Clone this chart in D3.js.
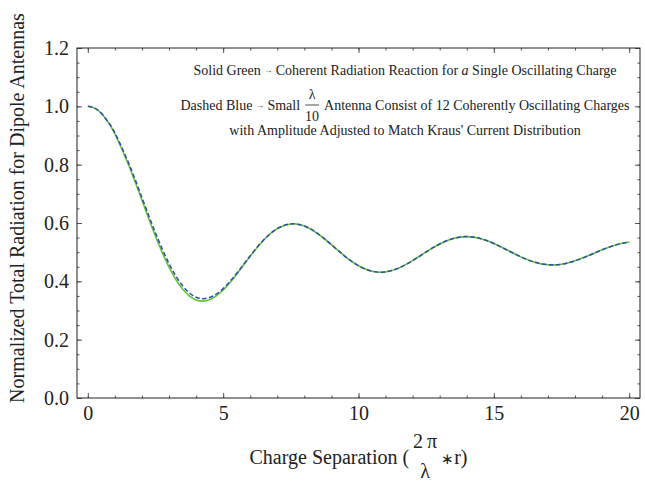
<!DOCTYPE html>
<html>
<head>
<meta charset="utf-8">
<script src="https://cdn.jsdelivr.net/npm/d3@7"></script>
<style>
  body { margin: 0; background: #fff; }
  text { font-family: "Liberation Serif", "Times New Roman", serif; fill: #222; }
</style>
</head>
<body>
<div id="chart"></div>
<script>
// charge separation values (2pi/lambda * r)
const xs = [0, 0.25, 0.5, 0.75, 1, 1.5, 2, 2.5, 3, 3.5, 4, 4.5, 5, 5.5, 6, 6.5, 7, 7.5, 8, 8.5, 9, 9.5,
  10, 10.5, 11, 11.5, 12, 12.5, 13, 13.5, 14, 14.5, 15, 15.5, 16, 16.5, 17, 17.5, 18, 18.5, 19, 19.5, 20];

// solid green: single oscillating charge
const greenVals = [1.0000, 0.9938, 0.9753, 0.9454, 0.9052, 0.8007, 0.6777, 0.5547, 0.4489, 0.3736, 0.3363, 0.3373,
  0.3704, 0.4245, 0.4860, 0.5416, 0.5805, 0.5968, 0.5896, 0.5632, 0.5255, 0.4858,
  0.4533, 0.4345, 0.4324, 0.4461, 0.4711, 0.5008, 0.5281, 0.5469, 0.5533, 0.5469,
  0.5298, 0.5069, 0.4838, 0.4658, 0.4570, 0.4584, 0.4703, 0.4884, 0.5080, 0.5248, 0.5349];

// dashed blue: 12 coherently oscillating charges
const blueVals = [1.0000, 0.9940, 0.9762, 0.9465, 0.9090, 0.8070, 0.6870, 0.5660, 0.4610, 0.3850, 0.3455, 0.3445,
  0.3750, 0.4275, 0.4875, 0.5425, 0.5808, 0.5968, 0.5896, 0.5632, 0.5255, 0.4858,
  0.4533, 0.4345, 0.4324, 0.4461, 0.4711, 0.5008, 0.5281, 0.5469, 0.5533, 0.5469,
  0.5298, 0.5069, 0.4838, 0.4658, 0.4570, 0.4584, 0.4703, 0.4884, 0.5080, 0.5248, 0.5349];

const xTicks = [0, 5, 10, 15, 20];
const yTicks = [0, 0.2, 0.4, 0.6, 0.8, 1.0, 1.2];

const width = 645, height = 481;
const frame = { left: 77, right: 640, top: 48, bottom: 398 };

const svg = d3.select("#chart").append("svg")
  .attr("width", width)
  .attr("height", height);

const x = d3.scaleLinear().domain([-0.4, 20.4]).range([frame.left, frame.right]);
const y = d3.scaleLinear().domain([0, 1.2]).range([frame.bottom, frame.top]);

// ticks (inward, Mathematica frame style)
function styleAxis(g) {
  g.select(".domain").remove();
  g.selectAll(".tick line").attr("stroke", "#555");
  g.selectAll(".tick text").style("font-size", "20px").attr("fill", "#222")
    .style("font-family", "'Liberation Serif', serif");
}

const minorX = d3.range(0, 21, 1);
const minorY = d3.range(0, 1.201, 0.05);

svg.append("g").attr("transform", `translate(0,${frame.bottom})`)
  .call(d3.axisBottom(x).tickValues(minorX).tickSize(-2.5).tickFormat(""))
  .call(styleAxis);
svg.append("g").attr("transform", `translate(0,${frame.bottom})`)
  .call(d3.axisBottom(x).tickValues(xTicks).tickSize(-5).tickPadding(8).tickFormat(d3.format("d")))
  .call(styleAxis);
svg.append("g").attr("transform", `translate(0,${frame.top})`)
  .call(d3.axisTop(x).tickValues(minorX).tickSize(-2.5).tickFormat(""))
  .call(styleAxis);
svg.append("g").attr("transform", `translate(0,${frame.top})`)
  .call(d3.axisTop(x).tickValues(xTicks).tickSize(-5).tickFormat(""))
  .call(styleAxis);

svg.append("g").attr("transform", `translate(${frame.left},0)`)
  .call(d3.axisLeft(y).tickValues(minorY).tickSize(-2.5).tickFormat(""))
  .call(styleAxis);
svg.append("g").attr("transform", `translate(${frame.left},0)`)
  .call(d3.axisLeft(y).tickValues(yTicks).tickSize(-5).tickPadding(8).tickFormat(d3.format(".1f")))
  .call(styleAxis);
svg.append("g").attr("transform", `translate(${frame.right},0)`)
  .call(d3.axisRight(y).tickValues(minorY).tickSize(-2.5).tickFormat(""))
  .call(styleAxis);
svg.append("g").attr("transform", `translate(${frame.right},0)`)
  .call(d3.axisRight(y).tickValues(yTicks).tickSize(-5).tickFormat(""))
  .call(styleAxis);

svg.append("rect")
  .attr("x", frame.left).attr("y", frame.top)
  .attr("width", frame.right - frame.left).attr("height", frame.bottom - frame.top)
  .attr("fill", "none").attr("stroke", "#222").attr("stroke-width", 1);

// curves
const line = d3.line().curve(d3.curveNatural);

svg.append("path")
  .attr("d", line(xs.map((d, i) => [x(d), y(greenVals[i])])))
  .attr("fill", "none").attr("stroke", "#62c03a").attr("stroke-width", 1.6);

svg.append("path")
  .attr("d", line(xs.map((d, i) => [x(d), y(blueVals[i])])))
  .attr("fill", "none").attr("stroke", "#2f4fa6").attr("stroke-width", 1.5)
  .attr("stroke-dasharray", "4.5,2.5");

// annotation text
const cx = 405;
const t1 = svg.append("text").attr("x", cx).attr("y", 75)
  .attr("text-anchor", "middle").style("font-size", "14px");
t1.append("tspan").text("Solid Green ");
t1.append("tspan").text("\u2192").style("font-size", "8px").attr("dy", -2);
t1.append("tspan").text(" Coherent Radiation Reaction for ").attr("dy", 2);
t1.append("tspan").text("a").style("font-style", "italic");
t1.append("tspan").text(" Single Oscillating Charge");

// line 2 with a lambda/10 fraction
const l2 = svg.append("g");
const l2a = l2.append("text").attr("y", 110).style("font-size", "14px");
l2a.append("tspan").text("Dashed Blue ");
l2a.append("tspan").text("\u2192").style("font-size", "8px").attr("dy", -2);
l2a.append("tspan").text(" Small").attr("dy", 2);
const l2b = l2.append("text").attr("y", 110).style("font-size", "14px")
  .text("Antenna Consist of 12 Coherently Oscillating Charges");
const wA = l2a.node().getComputedTextLength();
const wB = l2b.node().getComputedTextLength();
const fracW = 16, gap = 4;
const start2 = cx - (wA + gap + fracW + gap + wB) / 2;
l2a.attr("x", start2);
const fx = start2 + wA + gap + fracW / 2;
l2.append("text").attr("x", fx).attr("y", 99).attr("text-anchor", "middle")
  .style("font-size", "14px").text("\u03bb");
l2.append("line").attr("x1", fx - 7).attr("x2", fx + 7).attr("y1", 105).attr("y2", 105)
  .attr("stroke", "#222").attr("stroke-width", 0.8);
l2.append("text").attr("x", fx).attr("y", 121).attr("text-anchor", "middle")
  .style("font-size", "14px").text("10");
l2b.attr("x", start2 + wA + gap + fracW + gap);

svg.append("text").attr("x", cx).attr("y", 135).attr("text-anchor", "middle")
  .style("font-size", "14px")
  .text("with Amplitude Adjusted to Match Kraus' Current Distribution");

// axis labels
svg.append("text")
  .attr("transform", `translate(24,${208}) rotate(-90)`)
  .attr("text-anchor", "middle").style("font-size", "20px")
  .text("Normalized Total Radiation for Dipole Antennas");

const xl = svg.append("g");
const xa = xl.append("text").attr("y", 464).style("font-size", "20px").text("Charge Separation (");
const xb = xl.append("text").attr("y", 464).style("font-size", "20px");
xb.append("tspan").text("\u2217").style("font-size", "15px");
xb.append("tspan").text("r)");
const waX = xa.node().getComputedTextLength();
const wbX = xb.node().getComputedTextLength();
const fW = 32;
const xStart = (frame.left + frame.right) / 2 - (waX + fW + wbX) / 2;
xa.attr("x", xStart);
const fcx = xStart + waX + fW / 2;
xl.append("text").attr("x", fcx).attr("y", 448).attr("text-anchor", "middle")
  .style("font-size", "20px").text("2\u2009\u03c0");
xl.append("text").attr("x", fcx).attr("y", 478).attr("text-anchor", "middle")
  .style("font-size", "20px").text("\u03bb");
xb.attr("x", xStart + waX + fW);
</script>
</body>
</html>
